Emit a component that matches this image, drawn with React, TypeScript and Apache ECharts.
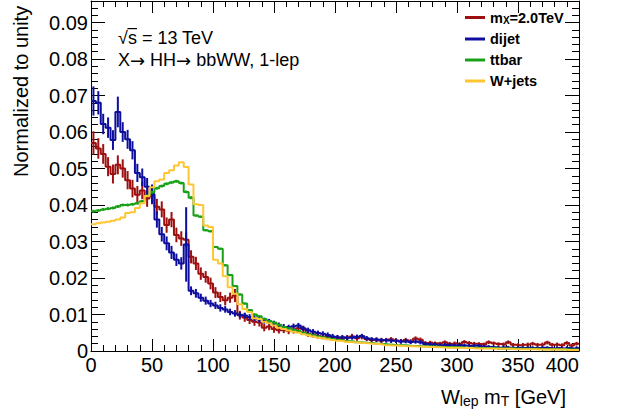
import React, { useEffect, useRef } from "react";
import * as echarts from "echarts";

// ---------------- data ----------------
const X_MIN = 0;
const X_MAX = 400;
const N_BINS = 100;

const SIGNAL = "mX=2.0TeV";
const seriesNames = [SIGNAL, "dijet", "ttbar", "W+jets"];
const seriesColors = ["#9e1010", "#0e0e9e", "#18a018", "#ffc633"];

const signal = [
  0.0570, 0.0555, 0.0540, 0.0505, 0.0485, 0.0510, 0.0500, 0.0468, 0.0445, 0.0428,
  0.0440, 0.0418, 0.0425, 0.0395, 0.0388, 0.0345, 0.0360, 0.0318, 0.0308, 0.0305,
  0.0258, 0.0240, 0.0212, 0.0203, 0.0185, 0.0160, 0.0148, 0.0139, 0.0146, 0.0152,
  0.0098, 0.0092, 0.0085, 0.0080, 0.0078, 0.0064, 0.0067, 0.0060, 0.0057, 0.0058,
  0.0055, 0.0057, 0.0062, 0.0060, 0.0047, 0.0045, 0.0042, 0.0039, 0.0040, 0.0037,
  0.0036, 0.0034, 0.0037, 0.0040, 0.0035, 0.0039, 0.0033, 0.0030, 0.0031, 0.0028,
  0.0030, 0.0032, 0.0029, 0.0027, 0.0030, 0.0026, 0.0034, 0.0031, 0.0022, 0.0023,
  0.0021, 0.0020, 0.0024, 0.0020, 0.0021, 0.0019, 0.0025, 0.0022, 0.0020, 0.0019,
  0.0018, 0.0024, 0.0021, 0.0019, 0.0018, 0.0024, 0.0017, 0.0016, 0.0017, 0.0018,
  0.0020, 0.0017, 0.0018, 0.0023, 0.0017, 0.0018, 0.0016, 0.0022, 0.0015, 0.0020,
];

const dijet = [
  0.0685, 0.0680, 0.0622, 0.0612, 0.0578, 0.0655, 0.0600, 0.0580, 0.0550, 0.0488,
  0.0476, 0.0450, 0.0430, 0.0360, 0.0320, 0.0295, 0.0270, 0.0250, 0.0240, 0.0292,
  0.0165, 0.0158, 0.0146, 0.0138, 0.0130, 0.0125, 0.0118, 0.0114, 0.0107, 0.0103,
  0.0099, 0.0097, 0.0093, 0.0090, 0.0086, 0.0083, 0.0080, 0.0075, 0.0070, 0.0066,
  0.0065, 0.0068, 0.0070, 0.0062, 0.0057, 0.0053, 0.0049, 0.0047, 0.0044, 0.0040,
  0.0038, 0.0038, 0.0036, 0.0037, 0.0039, 0.0041, 0.0035, 0.0032, 0.0031, 0.0030,
  0.0029, 0.0028, 0.0028, 0.0026, 0.0027, 0.0025, 0.0026, 0.0024, 0.0019, 0.0018,
  0.0018, 0.0016, 0.0017, 0.0016, 0.0015, 0.0016, 0.0015, 0.0014, 0.0015, 0.0014,
  0.0012, 0.0011, 0.0010, 0.0009, 0.0010, 0.0009, 0.0008, 0.0009, 0.0008, 0.0009,
  0.0008, 0.0008, 0.0009, 0.0008, 0.0007, 0.0008, 0.0007, 0.0008, 0.0007, 0.0008,
];

const ttbar = [
  0.0383, 0.0385, 0.0388, 0.0390, 0.0392, 0.0396, 0.0400, 0.0400, 0.0402, 0.0405,
  0.0410, 0.0425, 0.0435, 0.0446, 0.0452, 0.0458, 0.0462, 0.0465, 0.0460, 0.0436,
  0.0420, 0.0371, 0.0368, 0.0331, 0.0328, 0.0285, 0.0280, 0.0235, 0.0208, 0.0178,
  0.0155, 0.0130, 0.0112, 0.0100, 0.0095, 0.0088, 0.0082, 0.0078, 0.0072, 0.0066,
  0.0062, 0.0058, 0.0055, 0.0050, 0.0046, 0.0043, 0.0040, 0.0038, 0.0035, 0.0033,
  0.0030, 0.0029, 0.0027, 0.0026, 0.0024, 0.0023, 0.0022, 0.0021, 0.0020, 0.0019,
  0.0018, 0.0017, 0.0016, 0.0016, 0.0015, 0.0014, 0.0014, 0.0013, 0.0013, 0.0012,
  0.0012, 0.0011, 0.0011, 0.0010, 0.0010, 0.0010, 0.0009, 0.0009, 0.0009, 0.0008,
  0.0008, 0.0008, 0.0008, 0.0007, 0.0007, 0.0007, 0.0007, 0.0006, 0.0006, 0.0006,
  0.0006, 0.0006, 0.0005, 0.0005, 0.0005, 0.0005, 0.0005, 0.0005, 0.0004, 0.0004,
];

const wjets = [
  0.0347, 0.0350, 0.0352, 0.0354, 0.0357, 0.0360, 0.0366, 0.0378, 0.0380, 0.0392,
  0.0405, 0.0425, 0.0449, 0.0465, 0.0470, 0.0488, 0.0495, 0.0508, 0.0517, 0.0504,
  0.0456, 0.0402, 0.0400, 0.0344, 0.0340, 0.0250, 0.0240, 0.0205, 0.0175, 0.0157,
  0.0128, 0.0115, 0.0107, 0.0090, 0.0088, 0.0080, 0.0076, 0.0070, 0.0064, 0.0060,
  0.0056, 0.0053, 0.0050, 0.0046, 0.0043, 0.0040, 0.0037, 0.0035, 0.0032, 0.0030,
  0.0028, 0.0027, 0.0025, 0.0024, 0.0023, 0.0022, 0.0021, 0.0020, 0.0019, 0.0018,
  0.0016, 0.0015, 0.0015, 0.0014, 0.0013, 0.0013, 0.0012, 0.0012, 0.0011, 0.0011,
  0.0010, 0.0010, 0.0009, 0.0009, 0.0009, 0.0008, 0.0008, 0.0008, 0.0007, 0.0007,
  0.0007, 0.0007, 0.0006, 0.0006, 0.0006, 0.0006, 0.0005, 0.0005, 0.0005, 0.0005,
  0.0005, 0.0004, 0.0004, 0.0004, 0.0004, 0.0004, 0.0004, 0.0003, 0.0003, 0.0003,
];

// half-lengths of the statistical error bars
const signalErr = [
  0.0032, 0.0028, 0.0027, 0.0026, 0.0026, 0.0026, 0.0025, 0.0025, 0.0024, 0.0024,
  0.0024, 0.0023, 0.0023, 0.0022, 0.0022, 0.0021, 0.0021, 0.0020, 0.0020, 0.0020,
  0.0018, 0.0018, 0.0017, 0.0016, 0.0016, 0.0015, 0.0014, 0.0014, 0.0014, 0.0018,
  0.0012, 0.0012, 0.0011, 0.0011, 0.0011, 0.0010, 0.0010, 0.0010, 0.0009, 0.0009,
  0.0009, 0.0009, 0.0009, 0.0009, 0.0008, 0.0008, 0.0008, 0.0007, 0.0007, 0.0007,
  0.0007, 0.0007, 0.0007, 0.0007, 0.0007, 0.0007, 0.0006, 0.0006, 0.0006, 0.0006,
  0.0006, 0.0006, 0.0006, 0.0006, 0.0006, 0.0006, 0.0006, 0.0006, 0.0005, 0.0005,
  0.0005, 0.0005, 0.0005, 0.0005, 0.0005, 0.0005, 0.0005, 0.0005, 0.0005, 0.0005,
  0.0005, 0.0005, 0.0005, 0.0005, 0.0005, 0.0005, 0.0005, 0.0005, 0.0005, 0.0005,
  0.0005, 0.0005, 0.0005, 0.0005, 0.0005, 0.0005, 0.0005, 0.0005, 0.0005, 0.0005,
];

const dijetErr = [
  0.0040, 0.0032, 0.0028, 0.0028, 0.0027, 0.0042, 0.0027, 0.0026, 0.0025, 0.0025,
  0.0024, 0.0024, 0.0026, 0.0022, 0.0020, 0.0019, 0.0018, 0.0017, 0.0017, 0.0102,
  0.0012, 0.0012, 0.0011, 0.0011, 0.0010, 0.0010, 0.0010, 0.0009, 0.0009, 0.0009,
  0.0008, 0.0008, 0.0008, 0.0008, 0.0008, 0.0008, 0.0008, 0.0008, 0.0008, 0.0008,
  0.0007, 0.0007, 0.0007, 0.0007, 0.0007, 0.0007, 0.0007, 0.0007, 0.0007, 0.0007,
  0.0006, 0.0006, 0.0006, 0.0006, 0.0006, 0.0006, 0.0006, 0.0006, 0.0006, 0.0006,
  0.0006, 0.0006, 0.0006, 0.0006, 0.0006, 0.0006, 0.0006, 0.0006, 0.0006, 0.0006,
  0.0005, 0.0005, 0.0005, 0.0005, 0.0005, 0.0005, 0.0005, 0.0005, 0.0005, 0.0005,
  0.0005, 0.0005, 0.0005, 0.0005, 0.0005, 0.0005, 0.0005, 0.0005, 0.0005, 0.0005,
  0.0005, 0.0005, 0.0005, 0.0005, 0.0005, 0.0005, 0.0005, 0.0005, 0.0005, 0.0005,
];

const ttbarErr = [
  0.0004, 0.0004, 0.0004, 0.0004, 0.0004, 0.0004, 0.0004, 0.0004, 0.0004, 0.0004,
  0.0004, 0.0004, 0.0004, 0.0004, 0.0004, 0.0004, 0.0004, 0.0004, 0.0004, 0.0004,
  0.0004, 0.0003, 0.0003, 0.0003, 0.0003, 0.0003, 0.0003, 0.0003, 0.0003, 0.0003,
  0.0003, 0.0003, 0.0003, 0.0003, 0.0003, 0.0003, 0.0003, 0.0003, 0.0003, 0.0003,
  0.0002, 0.0002, 0.0002, 0.0002, 0.0002, 0.0002, 0.0002, 0.0002, 0.0002, 0.0002,
  0.0002, 0.0002, 0.0002, 0.0002, 0.0002, 0.0002, 0.0002, 0.0002, 0.0002, 0.0002,
  0.0002, 0.0002, 0.0002, 0.0002, 0.0002, 0.0002, 0.0002, 0.0002, 0.0002, 0.0002,
  0.0002, 0.0002, 0.0002, 0.0002, 0.0002, 0.0002, 0.0002, 0.0002, 0.0002, 0.0002,
  0.0002, 0.0002, 0.0002, 0.0002, 0.0002, 0.0002, 0.0002, 0.0002, 0.0002, 0.0002,
  0.0002, 0.0002, 0.0002, 0.0002, 0.0002, 0.0002, 0.0002, 0.0002, 0.0002, 0.0002,
];

const yMax = 0.0959;
const xTickStep = 50;
const yTickStep = 0.01;

// ---------------- helpers ----------------
const FONT = '"Liberation Sans", Arial, Helvetica, sans-serif';
const ARROW_FONT = '"DejaVu Sans", sans-serif';
const binWidth = (X_MAX - X_MIN) / N_BINS;

const stepData = (vals: number[]) =>
  vals
    .map((v, i) => [X_MIN + i * binWidth, v])
    .concat([[X_MAX, vals[vals.length - 1]]]);

const errData = (vals: number[], errs: number[]) =>
  vals.map((v, i) => [X_MIN + (i + 0.5) * binWidth, v - errs[i], v + errs[i]]);

const makeErrSeries = (vals: number[], errs: number[], color: string, z: number) => ({
  type: "custom",
  name: "err" + z,
  silent: true,
  clip: true,
  z,
  encode: { x: 0, y: [1, 2] },
  data: errData(vals, errs),
  renderItem: (_params: any, api: any) => {
    const x = api.value(0);
    const p1 = api.coord([x, api.value(1)]);
    const p2 = api.coord([x, api.value(2)]);
    return {
      type: "line",
      shape: { x1: p1[0], y1: p1[1], x2: p2[0], y2: p2[1] },
      style: { stroke: color, lineWidth: 2 },
    };
  },
});

const makeStepSeries = (name: string, vals: number[], color: string, z: number) => ({
  type: "line",
  name,
  step: "end",
  showSymbol: false,
  symbol: "none",
  color,
  z,
  data: stepData(vals),
  lineStyle: { width: 2, color },
});

const frameAxisX = (position: "bottom" | "top", labels: boolean) => ({
  type: "value",
  position,
  min: X_MIN,
  max: X_MAX,
  interval: xTickStep,
  axisLine: { show: true, onZero: false, lineStyle: { color: "#000", width: 1 } },
  axisTick: { show: true, inside: true, length: 12, lineStyle: { color: "#000" } },
  minorTick: { show: true, splitNumber: 5, length: 6, lineStyle: { color: "#000" } },
  splitLine: { show: false },
  axisLabel: {
    show: labels,
    color: "#000",
    fontSize: 20,
    fontFamily: FONT,
    margin: 4,
    alignMaxLabel: "right",
  },
});

const frameAxisY = (position: "left" | "right", labels: boolean) => ({
  type: "value",
  position,
  min: 0,
  max: yMax,
  interval: yTickStep,
  axisLine: { show: true, onZero: false, lineStyle: { color: "#000", width: 1 } },
  axisTick: { show: true, inside: true, length: 14, lineStyle: { color: "#000" } },
  minorTick: { show: true, splitNumber: 5, length: 7, lineStyle: { color: "#000" } },
  splitLine: { show: false },
  axisLabel: {
    show: labels,
    color: "#000",
    fontSize: 20,
    fontFamily: FONT,
    margin: 3,
    showMaxLabel: false,
    formatter: (v: number) => (v === 0 ? "0" : String(Math.round(v * 100) / 100)),
  },
});

export default function App() {
  const ref = useRef<HTMLDivElement>(null);

  useEffect(() => {
    if (!ref.current) return;
    const chart = echarts.init(ref.current, undefined, { renderer: "svg" });

    const vals = [signal, dijet, ttbar, wjets];
    const errs: (number[] | null)[] = [signalErr, dijetErr, ttbarErr, null];

    const series: any[] = [];
    vals.forEach((v, i) => {
      const z = 2 + i;
      series.push(makeStepSeries(seriesNames[i], v, seriesColors[i], z));
      const e = errs[i];
      if (e) series.push(makeErrSeries(v, e, seriesColors[i], z));
    });

    const option: any = {
      animation: false,
      backgroundColor: "#fff",
      grid: { left: 91, right: 39, top: 1, bottom: 68, containLabel: false },
      xAxis: [frameAxisX("bottom", true), frameAxisX("top", false)],
      yAxis: [frameAxisY("left", true), frameAxisY("right", false)],
      legend: {
        data: seriesNames.map((n) => ({ name: n, icon: "rect" })),
        orient: "vertical",
        left: 460,
        top: 5,
        itemWidth: 20,
        itemHeight: 3,
        itemGap: 6,
        formatter: (name: string) =>
          name === SIGNAL ? "{t|m}{s|X}{t|=2.0TeV}" : "{t|" + name + "}",
        textStyle: {
          color: "#000",
          rich: {
            t: { fontSize: 14.5, fontWeight: "bold", fontFamily: FONT, color: "#000", lineHeight: 16 },
            s: {
              fontSize: 10,
              fontWeight: "bold",
              fontFamily: FONT,
              color: "#000",
              lineHeight: 10,
              verticalAlign: "bottom",
            },
          },
        },
      },
      graphic: [
        {
          type: "text",
          x: 11,
          y: 177,
          rotation: Math.PI / 2,
          style: {
            text: "Normalized to unity",
            fontSize: 20,
            fontFamily: FONT,
            fill: "#000",
            align: "left",
            verticalAlign: "top",
          },
        },
        {
          type: "text",
          x: 566,
          y: 386,
          style: {
            text: "{a|W}{s|lep}{a| m}{s|T}{a| [GeV]}",
            fill: "#000",
            align: "right",
            verticalAlign: "top",
            rich: {
              a: { fontSize: 20, fontFamily: FONT, fill: "#000", lineHeight: 22 },
              s: { fontSize: 14, fontFamily: FONT, fill: "#000", lineHeight: 4, verticalAlign: "bottom" },
            },
          },
        },
        {
          type: "text",
          x: 118,
          y: 38,
          style: {
            text: "√s = 13 TeV",
            fontSize: 18,
            fontFamily: FONT,
            fill: "#000",
            align: "left",
            verticalAlign: "middle",
          },
        },
        {
          type: "line",
          shape: { x1: 127.5, y1: 28.6, x2: 137, y2: 28.6 },
          style: { stroke: "#000", lineWidth: 1.2 },
        },
        {
          type: "text",
          x: 118,
          y: 60,
          style: {
            text: "{a|X}{r|→}{a| HH}{r|→}{a| bbWW, 1-lep}",
            fill: "#000",
            align: "left",
            verticalAlign: "middle",
            rich: {
              a: { fontSize: 18, fontFamily: FONT, fill: "#000", lineHeight: 20 },
              r: { fontSize: 18, fontFamily: ARROW_FONT, fill: "#000", lineHeight: 20 },
            },
          },
        },
      ],
      series,
    };

    chart.setOption(option);
    return () => chart.dispose();
  }, []);

  return (
    <div
      ref={ref}
      style={{ position: "fixed", left: 0, top: 0, width: 618, height: 419, background: "#fff" }}
    />
  );
}
